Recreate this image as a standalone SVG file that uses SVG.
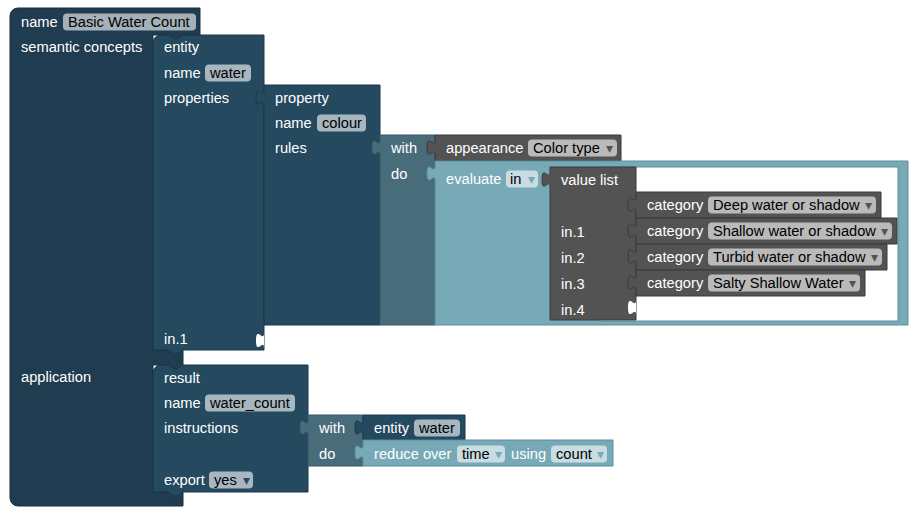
<svg xmlns="http://www.w3.org/2000/svg" width="924" height="522" viewBox="0 0 924 522">
<style>
text{font-family:"Liberation Sans",Arial,sans-serif;font-size:14.67px}
.t{fill:#ffffff}
.ft{fill:#000000}
.fr{fill:#ffffff;fill-opacity:0.6}
.arr{font-family:"DejaVu Sans",sans-serif;font-size:14px}
.outer{fill:#1f3c51;stroke:#17303f;stroke-width:1}
.navy{fill:#25495f;stroke:#1b384a;stroke-width:1}
.wd{fill:#496c7b;stroke:#3a5866;stroke-width:1}
.gray{fill:#535353;stroke:#3a3a3a;stroke-width:1}
.teal{fill:#77a9b7;stroke:#5a8f9d;stroke-width:1}
.hole{fill:#ffffff}
</style>
<rect width="924" height="522" fill="#ffffff"/>

<g id="outer-block">
<path class="outer" d="M10,16 a8,8 0 0 1 8,-8 H200 V35 H183 l-6,4 h-3 l-6,-4 H153 V350 H183 V365 l-6,4 h-3 l-6,-4 H153 V492 H183 V506 H18 a8,8 0 0 1 -8,-8 Z"/>
<text class="t" x="21" y="27">name</text>
<rect class="fr" x="63" y="13.5" width="133" height="17" rx="4"/>
<text class="ft" x="68" y="27">Basic Water Count</text>
<text class="t" x="21" y="52">semantic concepts</text>
<text class="t" x="21" y="382">application</text>
</g>

<g id="entity-block">
<path class="navy" d="M153,43 a8,8 0 0 1 8,-8 H168 l6,4 h3 l6,-4 H264 V350 H183 l-6,4 h-3 l-6,-4 H153 Z"/>
<path class="hole" d="M264,333 c0,10 -8,-8 -8,7.5 s8,-2.5 8,7.5 Z"/>
<text class="t" x="164" y="52">entity</text>
<text class="t" x="164" y="78">name</text>
<rect class="fr" x="205" y="64.5" width="46" height="17" rx="4"/>
<text class="ft" x="210" y="78">water</text>
<text class="t" x="164" y="103">properties</text>
<text class="t" x="164" y="344">in.1</text>
</g>

<g id="property-block">
<path class="navy" d="M264,85 H380 V325 H264 V105 c0,-10 -8,8 -8,-7.5 s8,2.5 8,-7.5 Z"/>
<text class="t" x="275" y="103">property</text>
<text class="t" x="275" y="128">name</text>
<rect class="fr" x="317" y="114.5" width="49" height="17" rx="4"/>
<text class="ft" x="322" y="128">colour</text>
<text class="t" x="275" y="153">rules</text>
</g>

<g id="with-do-rule">
<path class="wd" d="M380,135 H435 V325 H380 V155 c0,-10 -8,8 -8,-7.5 s8,2.5 8,-7.5 Z"/>
<text class="t" x="391" y="153">with</text>
<text class="t" x="391" y="179">do</text>
</g>

<g id="appearance-block">
<path class="gray" d="M435,135 H621 V161 H435 V155 c0,-10 -8,8 -8,-7.5 s8,2.5 8,-7.5 Z"/>
<text class="t" x="446" y="153">appearance</text>
<rect class="fr" x="528" y="139.5" width="89" height="17" rx="4"/>
<text class="ft" x="533" y="153">Color type</text>
<text class="arr" x="613" y="153" text-anchor="end" fill="#535353">▾</text>
</g>

<g id="evaluate-block">
<path class="teal" d="M435,161 H908 V325 H435 V181 c0,-10 -8,8 -8,-7.5 s8,2.5 8,-7.5 Z"/>
<rect x="600" y="167" width="298" height="154" fill="#ffffff" stroke="#5a8f9d" stroke-width="1"/>
<text class="t" x="446" y="184">evaluate</text>
<rect class="fr" x="506" y="170.5" width="32" height="17" rx="4"/>
<text class="ft" x="510" y="184">in</text>
<text class="arr" x="535" y="184" text-anchor="end" fill="#77a9b7">▾</text>
</g>

<g id="value-list-block">
<path class="gray" d="M550,167 H636 V320 H550 V187 c0,-10 -8,8 -8,-7.5 s8,2.5 8,-7.5 Z"/>
<path class="hole" d="M636,300 c0,10 -8,-8 -8,7.5 s8,-2.5 8,7.5 Z"/>
<text class="t" x="561" y="185">value list</text>
<text class="t" x="561" y="237">in.1</text>
<text class="t" x="561" y="263">in.2</text>
<text class="t" x="561" y="289">in.3</text>
<text class="t" x="561" y="315">in.4</text>
</g>

<g id="category-1">
<path class="gray" d="M636,192 H881 V218 H636 V212 c0,-10 -8,8 -8,-7.5 s8,2.5 8,-7.5 Z"/>
<text class="t" x="647" y="210">category</text>
<rect class="fr" x="708" y="196.5" width="168" height="17" rx="4"/>
<text class="ft" x="713" y="210">Deep water or shadow</text>
<text class="arr" x="872" y="210" text-anchor="end" fill="#535353">▾</text>
</g>
<g id="category-2">
<path class="gray" d="M636,218 H897 V244 H636 V238 c0,-10 -8,8 -8,-7.5 s8,2.5 8,-7.5 Z"/>
<text class="t" x="647" y="236">category</text>
<rect class="fr" x="708" y="222.5" width="184" height="17" rx="4"/>
<text class="ft" x="713" y="236">Shallow water or shadow</text>
<text class="arr" x="888" y="236" text-anchor="end" fill="#535353">▾</text>
</g>
<g id="category-3">
<path class="gray" d="M636,244 H887 V270 H636 V264 c0,-10 -8,8 -8,-7.5 s8,2.5 8,-7.5 Z"/>
<text class="t" x="647" y="262">category</text>
<rect class="fr" x="708" y="248.5" width="174" height="17" rx="4"/>
<text class="ft" x="713" y="262">Turbid water or shadow</text>
<text class="arr" x="878" y="262" text-anchor="end" fill="#535353">▾</text>
</g>
<g id="category-4">
<path class="gray" d="M636,270 H865 V296 H636 V290 c0,-10 -8,8 -8,-7.5 s8,2.5 8,-7.5 Z"/>
<text class="t" x="647" y="288">category</text>
<rect class="fr" x="708" y="274.5" width="152" height="17" rx="4"/>
<text class="ft" x="713" y="288">Salty Shallow Water</text>
<text class="arr" x="856" y="288" text-anchor="end" fill="#535353">▾</text>
</g>

<g id="result-block">
<path class="navy" d="M153,373 a8,8 0 0 1 8,-8 H168 l6,4 h3 l6,-4 H308 V492 H183 l-6,4 h-3 l-6,-4 H153 Z"/>
<text class="t" x="164" y="383">result</text>
<text class="t" x="164" y="408">name</text>
<rect class="fr" x="205" y="394.5" width="90" height="17" rx="4"/>
<text class="ft" x="210" y="408">water_count</text>
<text class="t" x="164" y="433">instructions</text>
<text class="t" x="164" y="485">export</text>
<rect class="fr" x="209" y="471.5" width="44" height="17" rx="4"/>
<text class="ft" x="214" y="485">yes</text>
<text class="arr" x="250" y="485" text-anchor="end" fill="#25495f">▾</text>
</g>

<g id="with-do-instructions">
<path class="wd" d="M308,415 H363 V466 H308 V435 c0,-10 -8,8 -8,-7.5 s8,2.5 8,-7.5 Z"/>
<text class="t" x="319" y="433">with</text>
<text class="t" x="319" y="459">do</text>
</g>

<g id="entity-water-block">
<path class="navy" d="M363,415 H465 V440 H363 V435 c0,-10 -8,8 -8,-7.5 s8,2.5 8,-7.5 Z"/>
<text class="t" x="374" y="433">entity</text>
<rect class="fr" x="414" y="419.5" width="46" height="17" rx="4"/>
<text class="ft" x="419" y="433">water</text>
</g>

<g id="reduce-block">
<path class="teal" d="M363,440 H613 V466 H363 V460 c0,-10 -8,8 -8,-7.5 s8,2.5 8,-7.5 Z"/>
<text class="t" x="374" y="459">reduce over</text>
<rect class="fr" x="457" y="445.5" width="48" height="17" rx="4"/>
<text class="ft" x="462" y="459">time</text>
<text class="arr" x="502" y="459" text-anchor="end" fill="#77a9b7">▾</text>
<text class="t" x="511" y="459">using</text>
<rect class="fr" x="551" y="445.5" width="56" height="17" rx="4"/>
<text class="ft" x="556" y="459">count</text>
<text class="arr" x="604" y="459" text-anchor="end" fill="#77a9b7">▾</text>
</g>

<g id="connectors"></g>
</svg>
